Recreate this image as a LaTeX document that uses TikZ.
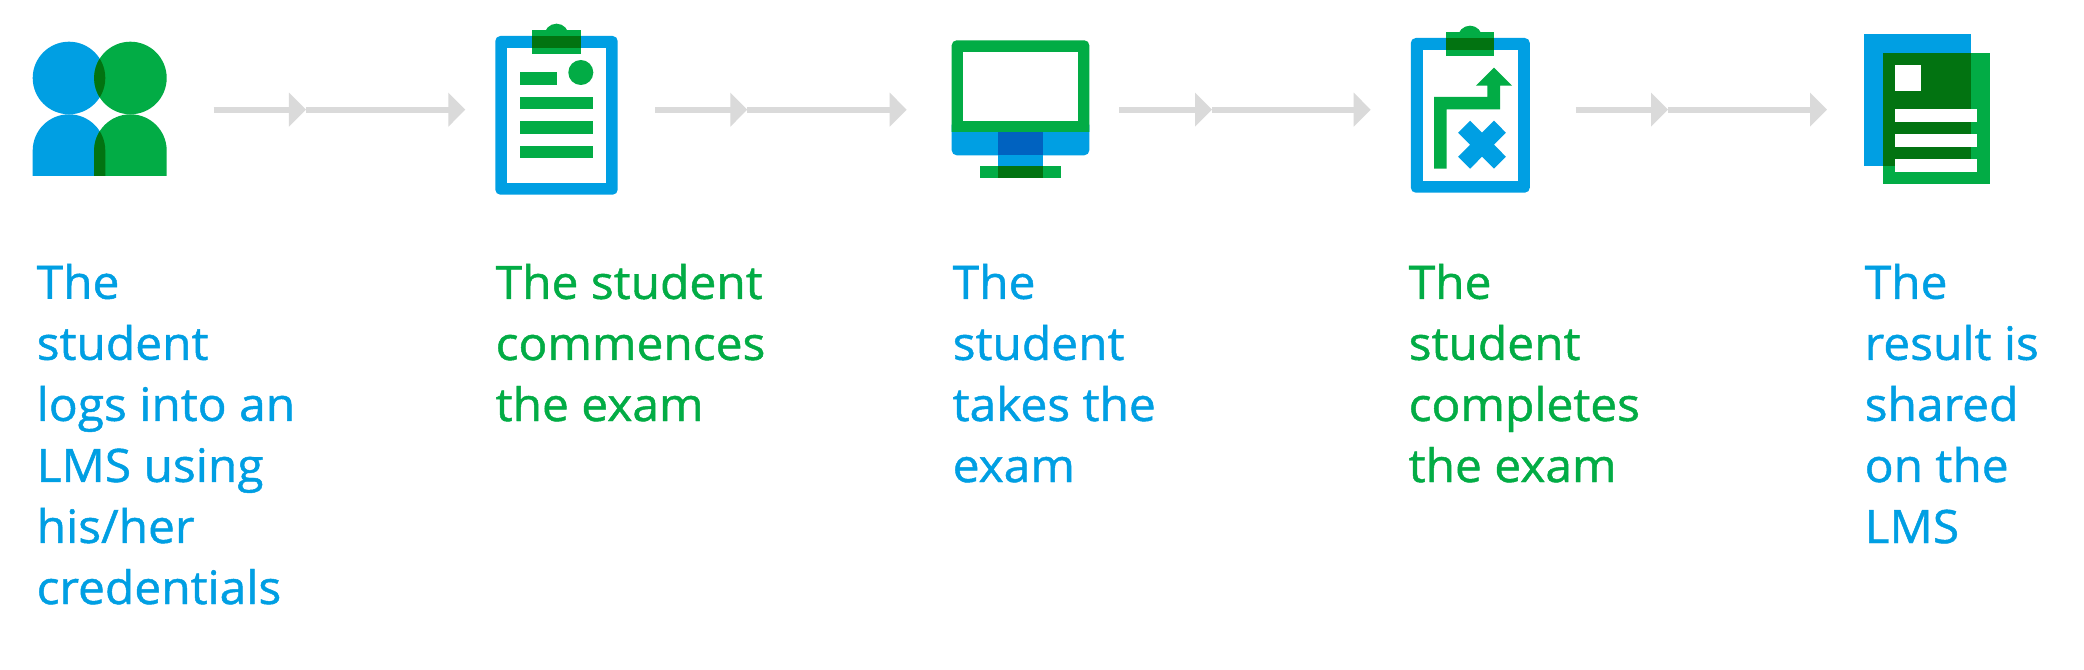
\documentclass[tikz,border=0pt]{standalone}
\usepackage{fontspec}
\setmainfont{Open Sans}[FakeBold=1,FakeStretch=1.04]
\usetikzlibrary{arrows.meta}
\definecolor{cblue}{RGB}{0,159,227}
\definecolor{cgreen}{RGB}{2,172,69}
\definecolor{cdark}{RGB}{2,115,17}
\definecolor{cnavy}{RGB}{0,98,192}
\definecolor{cgrey}{RGB}{218,218,218}
\tikzset{
  flow/.style={draw=cgrey,line width=0.06cm,-{Triangle[length=0.17cm,width=0.33cm,fill=cgrey]}},
  lbl/.style={anchor=base west,inner sep=0,align=left,font=\fontsize{13.1}{17.36}\selectfont},
  round/.style={rounded corners=0.05cm}
}
\begin{document}
\begin{tikzpicture}[x=0.01cm,y=-0.01cm]
\useasboundingbox[fill=white] (0,0) rectangle (2084,670);

% icon 1: two people
\fill[cblue] (69,78) circle[radius=36.3];
\fill[cblue] (32.7,176) -- (32.7,150.6) arc[start angle=180,end angle=360,radius=36.3] -- (105.3,176) -- cycle;
\fill[cgreen] (130.4,78) circle[radius=36.3];
\fill[cgreen] (94.1,176) -- (94.1,150.6) arc[start angle=180,end angle=360,radius=36.3] -- (166.7,176) -- cycle;
\begin{scope}
  \clip (69,78) circle[radius=36.3];
  \fill[cdark] (130.4,78) circle[radius=36.3];
\end{scope}
\begin{scope}
  \clip (32.7,176) -- (32.7,150.6) arc[start angle=180,end angle=360,radius=36.3] -- (105.3,176) -- cycle;
  \fill[cdark] (94.1,176) -- (94.1,150.6) arc[start angle=180,end angle=360,radius=36.3] -- (166.7,176) -- cycle;
\end{scope}

% icon 2: clipboard
\fill[cblue,round] (495.3,36) rectangle (617.7,194.7);
\fill[white] (507.3,48.3) rectangle (605.7,182.7);
\fill[cgreen] (556.5,35.9) circle[radius=12.2];
\fill[cgreen] (532,30) rectangle (581,54.3);
\fill[cdark] (532,36) rectangle (581,48.3);
\fill[cgreen] (580.8,72.5) circle[radius=12.5];
\fill[cgreen] (519.7,72.3) rectangle (556.7,85);
\fill[cgreen] (519.7,97) rectangle (593.3,109.3);
\fill[cgreen] (519.7,121.3) rectangle (593.3,133.7);
\fill[cgreen] (519.7,145.7) rectangle (593.3,158.3);

% icon 3: monitor
\fill[cblue,round] (951.7,120) -- (951.7,155.3) -- (1089.3,155.3) -- (1089.3,120) -- cycle;
\fill[cgreen] (951.7,132) -- (951.7,45.3) arc[start angle=180,end angle=270,radius=5] -- (1084.3,40.3) arc[start angle=270,end angle=360,radius=5] -- (1089.3,132) -- cycle;
\fill[white] (963,51.7) rectangle (1078,120.7);
\fill[cnavy] (997.7,132) rectangle (1043.3,155.3);
\fill[cblue] (997.7,155.3) rectangle (1043.3,166);
\fill[cgreen] (980.3,166) rectangle (1060.7,178);
\fill[cdark] (997.7,166) rectangle (1043.3,178);

% icon 4: clipboard with arrow and cross
\fill[cblue,round] (1410.8,38) rectangle (1529.8,192.7);
\fill[white] (1422.7,50) rectangle (1517.9,180.7);
\fill[cgreen] (1470,37.9) circle[radius=12.2];
\fill[cgreen] (1446.2,32) rectangle (1494,56);
\fill[cdark] (1446.2,38) rectangle (1494,50);
\fill[cgreen] (1434.2,168.7) -- (1434.2,97) -- (1487.3,97) -- (1487.3,85.7) -- (1475.8,85.7)
  -- (1494,67.7) -- (1512,85.7) -- (1500.2,85.7) -- (1500.2,109.3) -- (1446.6,109.3) -- (1446.6,168.7) -- cycle;
\fill[cblue] (1470.1,120.7) -- (1482,132.7) -- (1494,120.7) -- (1505.9,132.7) -- (1494,144.7) -- (1505.9,156.7)
  -- (1494,168.7) -- (1482,156.7) -- (1470.1,168.7) -- (1458.1,156.7) -- (1470.1,144.7) -- (1458.1,132.7) -- cycle;

% icon 5: result sheets
\fill[cblue] (1864.3,34) rectangle (1971,165.7);
\fill[cgreen] (1882.9,52.7) rectangle (1990,184.3);
\fill[cdark] (1882.9,52.7) rectangle (1971,165.7);
\fill[white] (1895.3,65.3) rectangle (1921,90.7);
\fill[white] (1895.3,109) rectangle (1977.2,122);
\fill[white] (1895.3,134) rectangle (1977.2,147);
\fill[white] (1895.3,159) rectangle (1977.2,172);

% connectors
\coordinate (a1) at (213.7,109.7); \coordinate (a2) at (306,109.7); \coordinate (a3) at (465.3,109.7);
\coordinate (b1) at (655,109.7); \coordinate (b2) at (747.3,109.7); \coordinate (b3) at (906.7,109.7);
\coordinate (c1) at (1119,109.7); \coordinate (c2) at (1212,109.7); \coordinate (c3) at (1370.7,109.7);
\coordinate (d1) at (1575.8,109.7); \coordinate (d2) at (1668,109.7); \coordinate (d3) at (1827,109.7);
\foreach \p/\q in {a1/a2,a2/a3,b1/b2,b2/b3,c1/c2,c2/c3,d1/d2,d2/d3}
  \draw[flow] (\p) -- (\q);

% labels (the node's base is its last line)
\node[lbl,text=cblue] (t1) at (36,604) {The\\student\\logs into an\\LMS using\\his/her\\credentials};
\node[lbl,text=cgreen] (t2) at (495,421) {The student\\commences\\the exam};
\node[lbl,text=cblue] (t3) at (952,482) {The\\student\\takes the\\exam};
\node[lbl,text=cgreen] (t4) at (1408,482) {The\\student\\completes\\the exam};
\node[lbl,text=cblue] (t5) at (1864,543) {The\\result is\\shared\\on the\\LMS};
\end{tikzpicture}
\end{document}
